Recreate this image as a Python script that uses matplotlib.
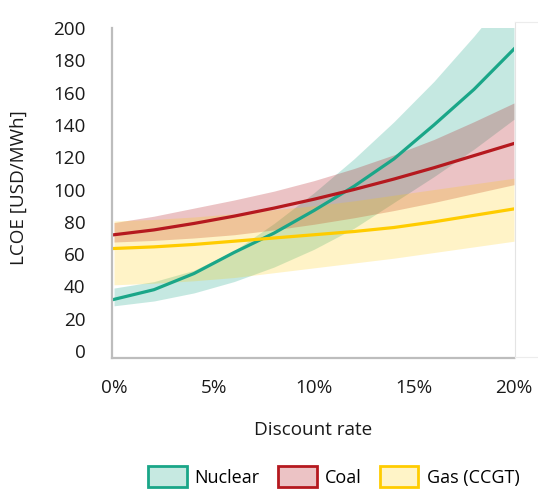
import matplotlib
matplotlib.use("Agg")
import matplotlib.pyplot as plt
from matplotlib.patches import Patch
from matplotlib.lines import Line2D

plt.rcParams['font.family'] = ['Open Sans', 'DejaVu Sans']

# discount rate (%)
rates = [0, 2, 4, 6, 8, 10, 12, 14, 16, 18, 20]

# LCOE in USD/MWh: central value and low/high range
nuclear_mid = [32, 38, 48, 61, 73, 87, 102, 119, 140, 162, 187]
nuclear_low = [28, 31, 36, 43, 52, 63, 76, 92, 108, 125, 143.5]
nuclear_high = [39, 43, 50, 62, 79, 98, 119, 142, 167, 195, 225]

coal_mid = [72, 75, 79, 83.5, 88.5, 94, 100, 106.5, 113.5, 121, 128.5]
coal_low = [67.5, 68.5, 70, 72, 75, 78.5, 82.5, 87, 92, 97.5, 103]
coal_high = [79.5, 83.5, 88.5, 93.5, 99, 105.5, 113, 121.5, 131, 142, 153.6]

gas_mid = [63.5, 64.5, 66, 68, 70, 72, 74, 76.5, 80, 84, 88]
gas_low = [41, 42, 43.5, 45.5, 48.5, 51.5, 54.5, 57.5, 61, 64.5, 68]
gas_high = [80.5, 81.5, 83, 85, 87.5, 90, 93, 96.5, 100, 103.5, 107]

series = [
    ("Nuclear", nuclear_mid, nuclear_low, nuclear_high, "#1aa688", 0.25),
    ("Coal", coal_mid, coal_low, coal_high, "#b5191f", 0.26),
    ("Gas (CCGT)", gas_mid, gas_low, gas_high, "#ffcc00", 0.22),
]

y_ticks = list(range(0, 201, 20))
x_ticks = [0, 5, 10, 15, 20]
x_tick_labels = ["0%", "5%", "10%", "15%", "20%"]

fs = 13.6

fig = plt.figure(figsize=(5.38, 4.92), dpi=100)
ax = fig.add_axes([112 / 538, 1 - 358 / 492, 402 / 538, 330 / 492])

for name, mid, low, high, color, alpha in series:
    ax.fill_between(rates, low, high, color=color, alpha=alpha, linewidth=0)
    ax.plot(rates, mid, color=color, linewidth=2.3, solid_joinstyle='round')

ax.set_xlim(-0.1, 20.0)
ax.set_ylim(-4.3, 196.4)
ax.set_xticks(x_ticks)
ax.set_xticklabels(x_tick_labels)
ax.set_yticks(y_ticks)
ax.tick_params(length=0, labelsize=fs, colors="#1a1a1a")
ax.tick_params(axis='y', pad=19)
ax.tick_params(axis='x', pad=15)

for side in ["top", "right"]:
    ax.spines[side].set_visible(False)
for side in ["left", "bottom"]:
    ax.spines[side].set_color("#bdbdbd")
    ax.spines[side].set_linewidth(1.6)

ax.set_xlabel("Discount rate", fontsize=fs, color="#1a1a1a")
ax.xaxis.set_label_coords(0.5, -0.19)
ax.set_ylabel("LCOE [USD/MWh]", fontsize=fs, color="#1a1a1a")
ax.yaxis.set_label_coords(-0.21, 0.515)

# thin light frame on the right
fig.add_artist(Line2D([515 / 538, 515 / 538], [1 - 22 / 492, 1 - 358 / 492],
                      color="#e4e4e4", linewidth=0.8))
fig.add_artist(Line2D([515 / 538, 1.0], [1 - 22 / 492, 1 - 22 / 492],
                      color="#ececec", linewidth=0.8))
fig.add_artist(Line2D([515 / 538, 1.0], [1 - 357 / 492, 1 - 357 / 492],
                      color="#ececec", linewidth=0.8))

# legend patches: light fill with a solid outline
legend_handles = []
for name, mid, low, high, color, alpha in series:
    rgb = matplotlib.colors.to_rgb(color)
    light = tuple(1 - alpha * (1 - c) for c in rgb)
    legend_handles.append(Patch(facecolor=light, edgecolor=color,
                                linewidth=2.0, label=name))

fig.legend(handles=legend_handles, loc='center',
           bbox_to_anchor=(0.62, 0.031), ncol=3, frameon=False,
           fontsize=13, handlelength=2.15, handleheight=1.4,
           handletextpad=0.45, columnspacing=1.0, borderaxespad=0)

fig.savefig("out.png", dpi=100)
